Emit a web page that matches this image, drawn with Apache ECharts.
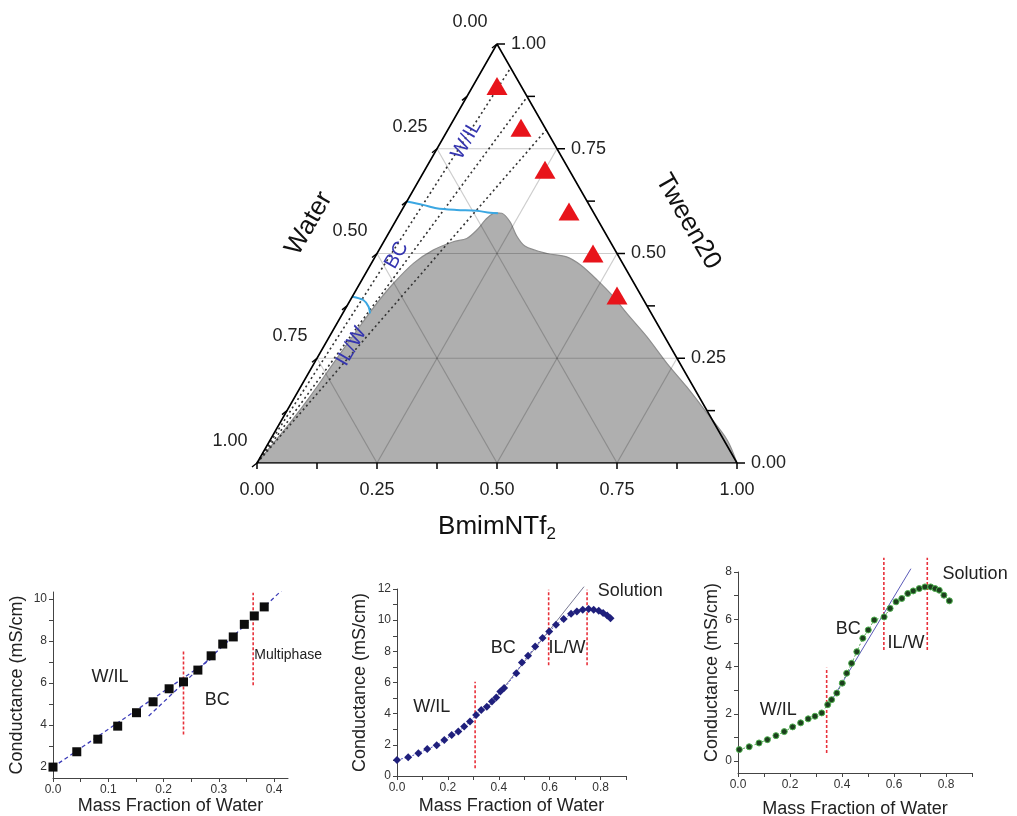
<!DOCTYPE html>
<html><head><meta charset="utf-8">
<script src="https://cdn.jsdelivr.net/npm/echarts@6/dist/echarts.min.js"></script>
<style>html,body{margin:0;padding:0;background:#fff}#c{width:1017px;height:816px}</style>
</head><body><div id="c"></div>
<script>
// ---------- Ternary data (fractions) ----------
const ternMajor = [0, 0.25, 0.5, 0.75, 1];
const ternMinor = [0.125, 0.375, 0.625, 0.875];
const ternLabels = ['0.00', '0.25', '0.50', '0.75', '1.00'];
const triTween = [0.9, 0.8, 0.7, 0.6, 0.5, 0.4];
const triBmim = [0.05, 0.15, 0.25, 0.35, 0.45, 0.55];
const boundTween = [0, 0.087, 0.158, 0.238, 0.317, 0.381, 0.429, 0.477, 0.508, 0.528, 0.536, 0.556, 0.584, 0.597, 0.596, 0.575, 0.544, 0.518, 0.5, 0.492, 0.473, 0.437, 0.397, 0.357, 0.301, 0.238, 0.182, 0.119, 0.055, 0];
const boundBmim = [0, 0.019, 0.031, 0.040, 0.050, 0.059, 0.070, 0.088, 0.113, 0.145, 0.169, 0.180, 0.187, 0.198, 0.212, 0.240, 0.268, 0.299, 0.354, 0.399, 0.437, 0.490, 0.544, 0.592, 0.662, 0.735, 0.804, 0.878, 0.952, 1];
const dilEndTween = [0.943, 0.874, 0.795];
const upperTween = [0.624, 0.616, 0.608, 0.604, 0.602, 0.597, 0.596];
const upperBmim = [0, 0.038, 0.070, 0.114, 0.157, 0.187, 0.204];
const lowerTween = [0.397, 0.389, 0.373, 0.357];
const lowerBmim = [0, 0.027, 0.046, 0.057];

// ---------- Conductance plots ----------
const s1x = [0.0, 0.043, 0.081, 0.117, 0.151, 0.181, 0.21, 0.236, 0.262, 0.286, 0.307, 0.326, 0.346, 0.364, 0.382];
const s1y = [2.0, 2.73, 3.33, 3.95, 4.59, 5.11, 5.73, 6.06, 6.62, 7.30, 7.86, 8.20, 8.80, 9.20, 9.63];
const s1fitAx = [0, 0.29], s1fitAy = [2.0, 7.22];
const s1fitBx = [0.173, 0.425], s1fitBy = [4.43, 10.7];
const s1redX = [0.236, 0.362], s1redY0 = [3.55, 5.9], s1redY1 = [7.6, 10.3];

const s2x = [0.0, 0.044, 0.084, 0.119, 0.156, 0.186, 0.215, 0.241, 0.264, 0.287, 0.311, 0.331, 0.353, 0.373, 0.39, 0.406, 0.421, 0.469, 0.491, 0.515, 0.543, 0.572, 0.598, 0.625, 0.655, 0.684, 0.707, 0.73, 0.753, 0.773, 0.793, 0.81, 0.826, 0.839];
const s2y = [1.03, 1.2, 1.46, 1.73, 1.97, 2.31, 2.63, 2.85, 3.17, 3.49, 3.92, 4.24, 4.45, 4.78, 5.03, 5.42, 5.64, 6.6, 7.28, 7.71, 8.31, 8.85, 9.27, 9.7, 10.07, 10.41, 10.56, 10.67, 10.71, 10.67, 10.6, 10.46, 10.3, 10.13];
const s2fitX = [0.36, 0.735], s2fitY = [4.45, 12.15];
const s2redX = [0.307, 0.596, 0.747], s2redY0 = [0.5, 7.1, 7.1], s2redY1 = [6.05, 11.95, 11.95];

const s3x = [0.005, 0.043, 0.081, 0.113, 0.146, 0.178, 0.21, 0.241, 0.27, 0.296, 0.322, 0.345, 0.36, 0.38, 0.401, 0.418, 0.437, 0.457, 0.48, 0.501, 0.524, 0.562, 0.585, 0.608, 0.63, 0.653, 0.674, 0.697, 0.719, 0.741, 0.758, 0.774, 0.792, 0.813];
const s3y = [0.49, 0.61, 0.77, 0.91, 1.08, 1.25, 1.45, 1.62, 1.79, 1.9, 2.04, 2.39, 2.6, 2.88, 3.3, 3.72, 4.14, 4.63, 5.2, 5.55, 5.97, 6.1, 6.46, 6.74, 6.88, 7.09, 7.2, 7.3, 7.37, 7.37, 7.3, 7.23, 7.02, 6.78];
const s3fitX = [0.345, 0.665], s3fitY = [2.3, 8.14];
const s3redX = [0.341, 0.561, 0.728], s3redY0 = [0.35, 4.7, 4.7], s3redY1 = [3.95, 8.6, 8.6];

const xLab1 = [0, 0.1, 0.2, 0.3, 0.4], xTick1 = [0, 0.05, 0.1, 0.15, 0.2, 0.25, 0.3, 0.35, 0.4];
const yLab1 = [2, 4, 6, 8, 10], yTick1 = [2, 3, 4, 5, 6, 7, 8, 9, 10];
const xLab2 = [0, 0.2, 0.4, 0.6, 0.8], xTick2 = [0, 0.1, 0.2, 0.3, 0.4, 0.5, 0.6, 0.7, 0.8, 0.9];
const yLab2 = [0, 2, 4, 6, 8, 10, 12], yTick2 = [0, 1, 2, 3, 4, 5, 6, 7, 8, 9, 10, 11, 12];
const yLab3 = [0, 2, 4, 6, 8], yTick3 = [0, 1, 2, 3, 4, 5, 6, 7, 8];

const FONT = 'Liberation Sans, Arial, sans-serif';
const tern = (t, b) => [b + t / 2, t];
const zip = (xs, ys) => xs.map((x, i) => [x, ys[i]]);

const chart = echarts.init(document.getElementById('c'), null, {renderer: 'canvas'});

function lineSeries(data, opts) {
  return Object.assign({type: 'line', data, symbol: 'none', silent: true, animation: false}, opts);
}

const series = [];
// gray two-phase area
series.push(lineSeries(boundTween.map((t, i) => tern(t, boundBmim[i])), {
  xAxisIndex: 0, yAxisIndex: 0, smooth: 0.3, z: 1,
  lineStyle: {color: '#8e8e8e', width: 1.2},
  areaStyle: {color: '#afafaf', opacity: 1}
}));
// grid lines
[0.25, 0.5, 0.75].forEach(v => {
  const lines = [
    [tern(v, 0), tern(v, 1 - v)],
    [tern(0, v), tern(1 - v, v)],
    [tern(0, 1 - v), tern(1 - v, 0)]
  ];
  lines.forEach(d => series.push(lineSeries(d, {xAxisIndex: 0, yAxisIndex: 0, z: 2,
    lineStyle: {color: 'rgba(0,0,0,0.2)', width: 1.2}})));
});
// dilution lines
dilEndTween.forEach(t => series.push(lineSeries([tern(0, 0), tern(t, 1 - t)], {
  xAxisIndex: 0, yAxisIndex: 0, z: 3, lineStyle: {color: '#333', width: 1.6, type: [2, 3]}})));
// phase-boundary curves
series.push(lineSeries(upperTween.map((t, i) => tern(t, upperBmim[i])), {xAxisIndex: 0, yAxisIndex: 0, z: 4, smooth: 0.3,
  lineStyle: {color: '#3ba7e2', width: 2}}));
series.push(lineSeries(lowerTween.map((t, i) => tern(t, lowerBmim[i])), {xAxisIndex: 0, yAxisIndex: 0, z: 4, smooth: 0.3,
  lineStyle: {color: '#3ba7e2', width: 2}}));
// edges
series.push(lineSeries([tern(0, 0), tern(0, 1), tern(1, 0), tern(0, 0)], {xAxisIndex: 0, yAxisIndex: 0, z: 5,
  lineStyle: {color: '#000', width: 1.6}}));
// triangles
series.push({type: 'scatter', xAxisIndex: 0, yAxisIndex: 0, z: 6, symbol: 'triangle', symbolSize: [21, 18],
  itemStyle: {color: '#e8141b', opacity: 1}, data: triTween.map((t, i) => tern(t, triBmim[i])), animation: false});

// subplot 1
series.push({type: 'scatter', xAxisIndex: 1, yAxisIndex: 1, z: 5, symbol: 'rect', symbolSize: 9,
  itemStyle: {color: '#0d0d0d', opacity: 1}, data: zip(s1x, s1y), animation: false});
series.push(lineSeries(zip(s1fitAx, s1fitAy), {xAxisIndex: 1, yAxisIndex: 1, z: 4, lineStyle: {color: '#3d3db8', width: 1.3, type: [4, 3]}}));
series.push(lineSeries(zip(s1fitBx, s1fitBy), {xAxisIndex: 1, yAxisIndex: 1, z: 4, lineStyle: {color: '#3d3db8', width: 1.3, type: [4, 3]}}));
s1redX.forEach((x, i) => series.push(lineSeries([[x, s1redY0[i]], [x, s1redY1[i]]], {xAxisIndex: 1, yAxisIndex: 1, z: 3, clip: false,
  lineStyle: {color: '#e8303a', width: 1.6, type: [3, 2]}})));

// subplot 2
series.push({type: 'line', xAxisIndex: 2, yAxisIndex: 2, z: 5, symbol: 'diamond', symbolSize: 8, showAllSymbol: true,
  itemStyle: {color: '#1f1f7c', opacity: 1}, lineStyle: {color: '#4a4ac0', width: 1, type: [2, 2]}, data: zip(s2x, s2y), animation: false});
series.push(lineSeries(zip(s2fitX, s2fitY), {xAxisIndex: 2, yAxisIndex: 2, z: 4, clip: false, lineStyle: {color: '#7b7b95', width: 1}}));
s2redX.forEach((x, i) => series.push(lineSeries([[x, s2redY0[i]], [x, s2redY1[i]]], {xAxisIndex: 2, yAxisIndex: 2, z: 3, clip: false,
  lineStyle: {color: '#e8303a', width: 1.6, type: [3, 2]}})));

// subplot 3
series.push({type: 'line', xAxisIndex: 3, yAxisIndex: 3, z: 5, symbol: 'circle', symbolSize: 6, showAllSymbol: true,
  itemStyle: {color: '#1c3f1d', borderColor: '#4fb04f', borderWidth: 1, opacity: 1}, lineStyle: {color: '#4fa64f', width: 1, type: [2, 2]},
  data: zip(s3x, s3y), animation: false});
series.push(lineSeries(zip(s3fitX, s3fitY), {xAxisIndex: 3, yAxisIndex: 3, z: 4, clip: false, lineStyle: {color: '#5a5ab8', width: 1}}));
s3redX.forEach((x, i) => series.push(lineSeries([[x, s3redY0[i]], [x, s3redY1[i]]], {xAxisIndex: 3, yAxisIndex: 3, z: 3, clip: false,
  lineStyle: {color: '#e8303a', width: 1.6, type: [3, 2]}})));

function subX(gi, max, labels, ticks, gap) {
  return {type: 'value', gridIndex: gi, min: 0, max,
    axisLine: {onZero: false, lineStyle: {color: '#444', width: 1}},
    axisTick: {show: true, length: 4, customValues: ticks, lineStyle: {color: '#444'}},
    axisLabel: {customValues: labels, formatter: v => v.toFixed(1), fontSize: 12, color: '#333', margin: 6, fontFamily: FONT},
    splitLine: {show: false},
    name: 'Mass Fraction of Water', nameLocation: 'middle', nameGap: gap,
    nameTextStyle: {fontSize: 18, color: '#222', fontFamily: FONT}};
}
function subY(gi, min, max, labels, ticks, gap) {
  return {type: 'value', gridIndex: gi, min, max,
    axisLine: {onZero: false, lineStyle: {color: '#444', width: 1}},
    axisTick: {show: true, length: 4, customValues: ticks, lineStyle: {color: '#444'}},
    axisLabel: {customValues: labels, fontSize: 12, color: '#333', margin: 6, fontFamily: FONT},
    splitLine: {show: false},
    name: 'Conductance (mS/cm)', nameLocation: 'middle', nameGap: gap,
    nameTextStyle: {fontSize: 18, color: '#222', fontFamily: FONT}};
}

const option = {
  animation: false,
  backgroundColor: '#fff',
  textStyle: {fontFamily: FONT},
  grid: [
    {left: 257, top: 44, width: 480, height: 419, containLabel: false, outerBoundsMode: 'none'},
    {left: 53, top: 592, width: 235, height: 186, containLabel: false, outerBoundsMode: 'none'},
    {left: 397, top: 589, width: 229, height: 187, containLabel: false, outerBoundsMode: 'none'},
    {left: 738, top: 572, width: 234, height: 201, containLabel: false, outerBoundsMode: 'none'}
  ],
  xAxis: [
    {type: 'value', gridIndex: 0, min: 0, max: 1, show: false},
    subX(1, 0.425, xLab1, xTick1, 13),
    subX(2, 0.9, xLab2, xTick2, 21),
    subX(3, 0.9, xLab2, xTick2, 27)
  ],
  yAxis: [
    {type: 'value', gridIndex: 0, min: 0, max: 1, show: false},
    subY(1, 1.48, 10.34, yLab1, yTick1, 27),
    subY(2, 0, 12, yLab2, yTick2, 28),
    subY(3, -0.5, 8, yLab3, yTick3, 16)
  ],
  series
};
chart.setOption(option);

// ---------- graphics: ternary axes, titles, annotations ----------
const P = (gi, x, y) => chart.convertToPixel({gridIndex: gi}, [x, y]);
const TP = (t, b) => { const c = tern(t, b); return P(0, c[0], c[1]); };
const g = [];
function tline(x1, y1, x2, y2) {
  g.push({type: 'line', silent: true, z: 100, shape: {x1, y1, x2, y2}, style: {stroke: '#000', lineWidth: 1.5}});
}
function txt(text, x, y, o) {
  o = o || {};
  g.push({type: 'text', silent: true, z: 100, x, y, rotation: o.rot || 0,
    style: {text, x: 0, y: 0, align: o.align || 'center', verticalAlign: 'middle',
      fontSize: o.size || 18, fill: o.color || '#222', fontFamily: FONT, rich: o.rich}});
}
const allTicks = ternMajor.concat(ternMinor);
// bottom axis (BmimNTf2)
allTicks.forEach(v => { const p = TP(0, v); tline(p[0], p[1], p[0], p[1] + 6); });
ternMajor.forEach((v, i) => { const p = TP(0, v); txt(ternLabels[i], p[0], p[1] + 27); });
// right axis (Tween20)
allTicks.forEach(v => { const p = TP(v, 1 - v); tline(p[0], p[1], p[0] + 8, p[1]); });
ternMajor.forEach((v, i) => { const p = TP(v, 1 - v); txt(ternLabels[i], p[0] + 14, p[1], {align: 'left'}); });
// left axis (Water)
allTicks.forEach(w => { const p = TP(1 - w, 0); tline(p[0], p[1], p[0] - 5, p[1] + 4); });
ternMajor.forEach((w, i) => { const p = TP(1 - w, 0); txt(ternLabels[i], p[0] - 27, p[1] - 22); });
// axis titles
{
  const l = TP(0.5, 0), r = TP(0.5, 0.5), b = TP(0, 0.5);
  txt('Water', l[0] - 68, l[1] - 30, {size: 26, rot: Math.PI / 3, color: '#111'});
  txt('Tween20', r[0] + 71, r[1] - 32, {size: 26, rot: -Math.PI / 3, color: '#111'});
  txt('{a|BmimNTf}{b|2}', b[0], b[1] + 64, {size: 26, color: '#111',
    rich: {a: {fontSize: 26, fill: '#111', fontFamily: FONT}, b: {fontSize: 17, fill: '#111', fontFamily: FONT, padding: [14, 0, 0, 0]}}});
}
// region labels in ternary
{
  const a = TP(0.771, 0.051), bc = TP(0.496, 0.043), c = TP(0.278, 0.058);
  txt('W/IL', a[0], a[1], {size: 20, rot: Math.PI / 3, color: '#3535b0'});
  txt('BC', bc[0], bc[1], {size: 20, rot: Math.PI / 3, color: '#3535b0'});
  txt('IL/W', c[0], c[1], {size: 20, rot: Math.PI / 3, color: '#3535b0'});
}
// subplot annotations
{
  let p;
  p = P(1, 0.103, 6.29); txt('W/IL', p[0], p[1]);
  p = P(1, 0.297, 5.19); txt('BC', p[0], p[1]);
  p = P(1, 0.364, 7.33); txt('Multiphase', p[0], p[1], {align: 'left', size: 14});
  p = P(2, 0.137, 4.45); txt('W/IL', p[0], p[1]);
  p = P(2, 0.418, 8.2); txt('BC', p[0], p[1]);
  p = P(2, 0.668, 8.2); txt('IL/W', p[0], p[1]);
  p = P(2, 0.917, 11.9); txt('Solution', p[0], p[1]);
  p = P(3, 0.155, 2.18); txt('W/IL', p[0], p[1]);
  p = P(3, 0.424, 5.57); txt('BC', p[0], p[1]);
  p = P(3, 0.646, 5.01); txt('IL/W', p[0], p[1]);
  p = P(3, 0.912, 7.9); txt('Solution', p[0], p[1]);
}
chart.setOption({graphic: g});
</script></body></html>
